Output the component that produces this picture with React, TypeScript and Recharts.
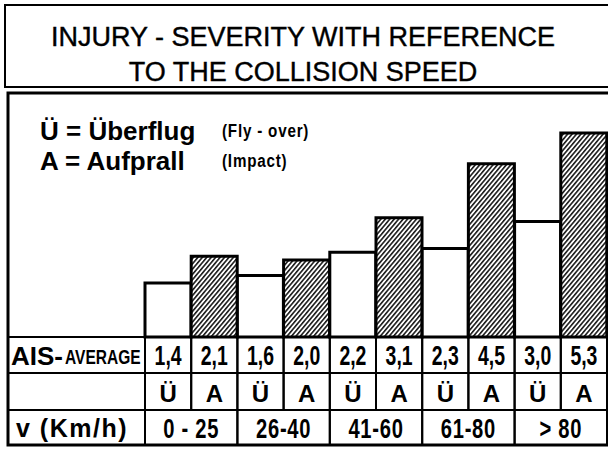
import React from 'react';
import { BarChart, Bar, XAxis, YAxis, Cell } from 'recharts';

const CATEGORY_TYPES = ['Ü', 'A', 'Ü', 'A', 'Ü', 'A', 'Ü', 'A', 'Ü', 'A'];
const AIS_AVERAGE = [1.4, 2.1, 1.6, 2.0, 2.2, 3.1, 2.3, 4.5, 3.0, 5.3];
const SPEED_GROUPS = ['0 - 25', '26-40', '41-60', '61-80', '> 80'];

const TITLE_LINES = ['INJURY - SEVERITY WITH REFERENCE', 'TO THE COLLISION SPEED'];

const data = AIS_AVERAGE.map((v, i) => ({
  ais: v,
  type: CATEGORY_TYPES[i],
  speed: SPEED_GROUPS[Math.floor(i / 2)],
}));

const W = 608;
const H = 449;
const MARGIN = { top: 106, right: 1, bottom: 4, left: 145 };
const BAND = (W - MARGIN.left - MARGIN.right) / AIS_AVERAGE.length;
const FRAME_LEFT = 8;
const ROW_AIS = 36;
const ROW_TYPE = 37;
const ROW_SPEED = 35;

const SANS = "'Liberation Sans', Arial, sans-serif";

const fmt = (v: number) => v.toFixed(1).replace('.', ',');

const Squeezed = ({ x, y, sx, size, anchor, children, weight = 'bold', spacing = 0 }: any) => (
  <g transform={`translate(${x},${y}) scale(${sx},1)`}>
    <text x={0} y={0} textAnchor={anchor} fontFamily={SANS} fontWeight={weight} fontSize={size} letterSpacing={spacing} fill="#000">
      {children}
    </text>
  </g>
);

const AisTick = (props: any) => {
  const { x, y, payload, index } = props;
  return (
    <g>
      {index === 0 && (
        <g>
          <rect x={FRAME_LEFT} y={y} width={x - BAND / 2 - FRAME_LEFT} height={ROW_AIS} fill="none" stroke="#000" strokeWidth={2} />
          <text x={FRAME_LEFT + 3} y={y + 28} fontFamily={SANS} fontWeight="bold" fontSize={26} fill="#000">AIS-</text>
          <Squeezed x={FRAME_LEFT + 57} y={y + 27} sx={0.74} size={21} anchor="start">AVERAGE</Squeezed>
        </g>
      )}
      <rect x={x - BAND / 2} y={y} width={BAND} height={ROW_AIS} fill="none" stroke="#000" strokeWidth={2} />
      <Squeezed x={x} y={y + 28} sx={0.72} size={27} anchor="middle">{fmt(Number(payload.value))}</Squeezed>
    </g>
  );
};

const TypeTick = (props: any) => {
  const { x, y, payload, index } = props;
  return (
    <g>
      {index === 0 && (
        <rect x={FRAME_LEFT} y={y} width={x - BAND / 2 - FRAME_LEFT} height={ROW_TYPE} fill="none" stroke="#000" strokeWidth={2} />
      )}
      <rect x={x - BAND / 2} y={y} width={BAND} height={ROW_TYPE} fill="none" stroke="#000" strokeWidth={2} />
      <text x={x} y={y + 29} textAnchor="middle" fontFamily={SANS} fontWeight="bold" fontSize={24} fill="#000">
        {payload.value}
      </text>
    </g>
  );
};

const SpeedTick = (props: any) => {
  const { x, y, payload, index } = props;
  if (index % 2 !== 0) return <g />;
  return (
    <g>
      {index === 0 && (
        <g>
          <rect x={FRAME_LEFT} y={y} width={x - BAND / 2 - FRAME_LEFT} height={ROW_SPEED} fill="none" stroke="#000" strokeWidth={2} />
          <text x={FRAME_LEFT + 8} y={y + 27} fontFamily={SANS} fontWeight="bold" fontSize={25} letterSpacing={1.5} fill="#000">
            v (Km/h)
          </text>
        </g>
      )}
      <rect x={x - BAND / 2} y={y} width={BAND * 2} height={ROW_SPEED} fill="none" stroke="#000" strokeWidth={2} />
      <Squeezed x={x + BAND / 2} y={y + 28} sx={0.72} size={28} anchor="middle" spacing={1}>{payload.value}</Squeezed>
    </g>
  );
};

export default function App() {
  return (
    <div style={{ position: 'absolute', left: 0, top: 0, width: W, height: H, background: '#fff' }}>
      <BarChart width={W} height={H} data={data} margin={MARGIN} barCategoryGap={0} barGap={0}>
        <defs>
          <pattern id="hatch" patternUnits="userSpaceOnUse" width={3.4} height={3.4} patternTransform="rotate(40)">
            <rect x={0} y={0} width={3.4} height={3.4} fill="#fff" />
            <rect x={0} y={0} width={1.6} height={3.4} fill="#1a1a1a" />
          </pattern>
        </defs>
        <rect x={5} y={5} width={610} height={82} fill="none" stroke="#000" strokeWidth={2} />
        <text x={303} y={46} textAnchor="middle" fontFamily={SANS} fontSize={27} stroke="#000" strokeWidth={0.4} fill="#000">{TITLE_LINES[0]}</text>
        <text x={303} y={81} textAnchor="middle" fontFamily={SANS} fontSize={27} stroke="#000" strokeWidth={0.4} fill="#000">{TITLE_LINES[1]}</text>
        <rect x={FRAME_LEFT} y={93} width={610} height={352} fill="none" stroke="#000" strokeWidth={3} />
        <text x={40} y={140} fontFamily={SANS} fontWeight="bold" fontSize={26} fill="#000">Ü = Überflug</text>
        <text x={40} y={170} fontFamily={SANS} fontWeight="bold" fontSize={26} fill="#000">A = Aufprall</text>
        <Squeezed x={222} y={137} sx={0.8} size={19} anchor="start" spacing={1}>(Fly - over)</Squeezed>
        <Squeezed x={222} y={167} sx={0.8} size={19} anchor="start" spacing={1}>(Impact)</Squeezed>
        <YAxis hide domain={[0, 6]} />
        <XAxis xAxisId="r1" dataKey="ais" height={ROW_AIS} interval={0} axisLine={false} tickLine={false} tickSize={0} tickMargin={0} tick={<AisTick />} />
        <XAxis xAxisId="r2" dataKey="type" height={ROW_TYPE} interval={0} axisLine={false} tickLine={false} tickSize={0} tickMargin={0} tick={<TypeTick />} />
        <XAxis xAxisId="r3" dataKey="speed" height={ROW_SPEED} interval={0} axisLine={false} tickLine={false} tickSize={0} tickMargin={0} tick={<SpeedTick />} />
        <Bar xAxisId="r1" dataKey="ais" stroke="#000" strokeWidth={3} isAnimationActive={false}>
          {data.map((d, i) => (
            <Cell key={i} fill={d.type === 'A' ? 'url(#hatch)' : '#fff'} />
          ))}
        </Bar>
      </BarChart>
    </div>
  );
}
